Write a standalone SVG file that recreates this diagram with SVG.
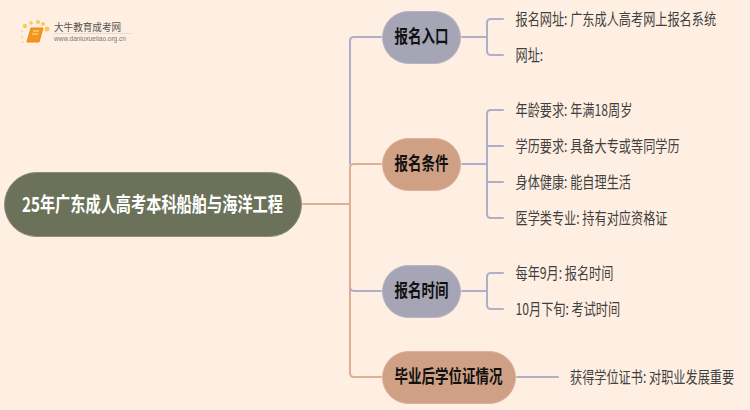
<svg xmlns="http://www.w3.org/2000/svg" width="750" height="410" viewBox="0 0 750 410">
<style>
text{font-family:"Noto Sans CJK SC","Noto Sans",sans-serif}
.leaf{font-size:16px;fill:#3f3f3f;dominant-baseline:central}
.b{font-size:18px;font-weight:700;fill:#111;dominant-baseline:central}
.c{fill:none;stroke-width:2;stroke-linecap:round}
.lav{stroke:#aeb0c8}
.org{stroke:#dfae93}
.lavn{fill:#a5a5b5;stroke:#b5b5c5}
.orgn{fill:#d0a084;stroke:#dcb09a}
</style>
<rect width="750" height="410" fill="#ffefe2"/>
<g id="logo">
<circle cx="25" cy="26" r="2.2" fill="#f7c95a"/><circle cx="31" cy="23" r="1.8" fill="#f7c95a"/><circle cx="38" cy="22" r="2" fill="#f7c95a"/><circle cx="43" cy="24" r="2" fill="#f7c95a"/><circle cx="47" cy="29" r="2.500" fill="#f7c95a"/><circle cx="22" cy="31" r="1.300" fill="#f9dc95"/><circle cx="22" cy="37" r="1.300" fill="#f9dc95"/><circle cx="23" cy="42" r="1" fill="#f9dc95"/>
<path d="M31 28H43L39 42H27Z" fill="#f2961e" stroke="#e88716"/>
<path d="M33 31H39M32 34H38" stroke="#ffe3a8" fill="none"/>
<text x="54" y="31" font-size="10" fill="#555" transform="translate(54 0) scale(.96 1) translate(-54 0)">大牛教育成考网</text>
<path d="M54 33.500H132" stroke="#e6dcd2" fill="none"/>
<text x="54" y="41" font-size="6.500" fill="#777" style="font-family:'Liberation Sans',sans-serif">www.daniuxueiiao.org.cn</text>
</g>
<g id="connectors">
<path class="c org" d="M303 204H350"/>
<path class="c lav" d="M381 37H354Q350 37 350 41V164"/>
<path class="c org" d="M381 164H354Q350 164 350 168V373Q350 377 354 377H381"/>
<path class="c lav" d="M381 291H354Q351 291 350 288"/>
<path class="c lav" d="M462 37H487M503 19H491Q487 19 487 23V51Q487 55 491 55H503"/>
<path class="c lav" d="M462 164H487M503 110H491Q487 110 487 114V214Q487 218 491 218H503M487 146H503M487 182H503"/>
<path class="c lav" d="M462 291H487M503 273H491Q487 273 487 277V305Q487 309 491 309H503"/>
<path class="c lav" d="M517 377H558"/>
</g>
<g id="root"><rect x="4.500" y="172.500" width="297" height="64" rx="32" fill="#6b7259" stroke="#8a8f78"/><text font-size="20" font-weight="700" fill="#fff" dominant-baseline="central" transform="translate(22 203) scale(.76 1)">25年广东成人高考本科船舶与海洋工程</text></g>
<g id="n1"><rect class="lavn" x="382.500" y="11.500" width="78" height="52" rx="26"/><text class="b" transform="translate(394.500 36) scale(.75 1)">报名入口</text></g>
<g id="n2"><rect class="orgn" x="382.500" y="138.500" width="78" height="52" rx="26"/><text class="b" transform="translate(394.500 163) scale(.75 1)">报名条件</text></g>
<g id="n3"><rect class="lavn" x="382.500" y="265.500" width="78" height="52" rx="26"/><text class="b" transform="translate(394.500 290) scale(.75 1)">报名时间</text></g>
<g id="n4"><rect class="orgn" x="382.500" y="351.500" width="133" height="52" rx="26"/><text class="b" transform="translate(394.500 376) scale(.75 1)">毕业后学位证情况</text></g>
<g id="l1"><text class="leaf" transform="translate(515.500 18) scale(.76 1)">报名网址: 广东成人高考网上报名系统</text></g>
<g id="l2"><text class="leaf" transform="translate(515.500 54) scale(.76 1)">网址:</text></g>
<g id="l3"><text class="leaf" transform="translate(515.500 109) scale(.76 1)">年龄要求: 年满18周岁</text></g>
<g id="l4"><text class="leaf" transform="translate(515.500 145) scale(.76 1)">学历要求: 具备大专或等同学历</text></g>
<g id="l5"><text class="leaf" transform="translate(515.500 181) scale(.76 1)">身体健康: 能自理生活</text></g>
<g id="l6"><text class="leaf" transform="translate(515.500 217) scale(.76 1)">医学类专业: 持有对应资格证</text></g>
<g id="l7"><text class="leaf" transform="translate(515.500 272) scale(.76 1)">每年9月: 报名时间</text></g>
<g id="l8"><text class="leaf" transform="translate(515.500 308) scale(.76 1)">10月下旬: 考试时间</text></g>
<g id="l9"><text class="leaf" transform="translate(570 376) scale(.76 1)">获得学位证书: 对职业发展重要</text></g>
</svg>
